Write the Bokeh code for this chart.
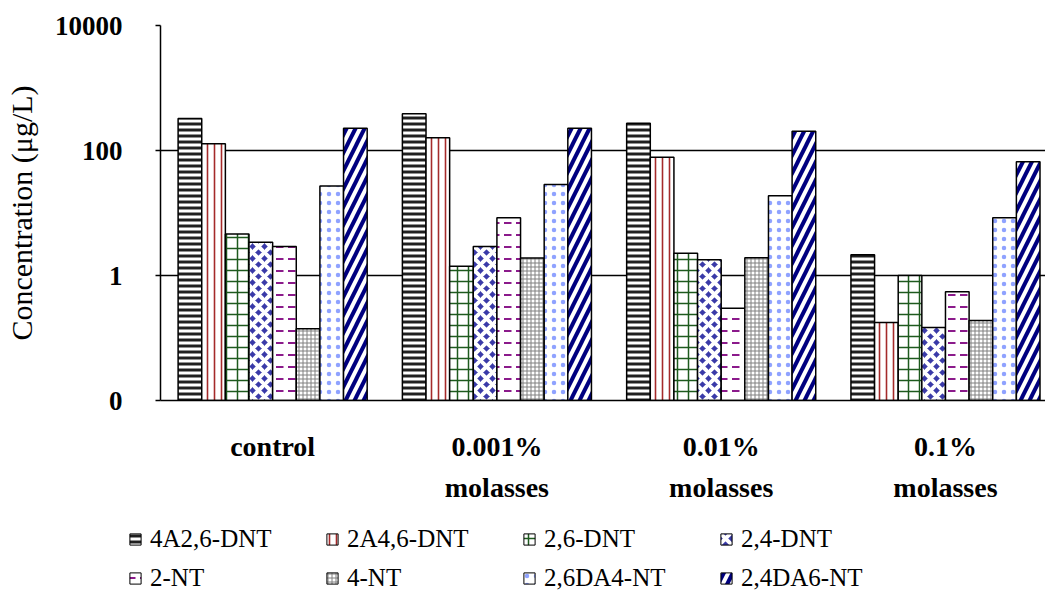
from bokeh.plotting import figure
from bokeh.layouts import column
from bokeh.models import Range1d, FixedTicker, Legend, LegendItem, ColumnDataSource
from bokeh.embed import file_html
from bokeh.resources import INLINE

# treatments (x categories) and nitroaromatic compounds (series)
groups = ["control", "0.001%\nmolasses", "0.01%\nmolasses", "0.1%\nmolasses"]
compounds = ["4A2,6-DNT", "2A4,6-DNT", "2,6-DNT", "2,4-DNT",
             "2-NT", "4-NT", "2,6DA4-NT", "2,4DA6-NT"]

# concentrations in µg/L, one value per treatment
conc_4a26dnt = [325, 386, 274, 2.14]
conc_2a46dnt = [128, 160, 78, 0.177]
conc_26dnt = [4.6, 1.41, 2.27, 1.0]
conc_24dnt = [3.4, 2.9, 1.78, 0.147]
conc_2nt = [2.9, 8.4, 0.30, 0.55]
conc_4nt = [0.14, 1.9, 1.92, 0.19]
conc_26da4nt = [27, 28.6, 18.8, 8.4]
conc_24da6nt = [228, 228, 204, 66]

series = [conc_4a26dnt, conc_2a46dnt, conc_26dnt, conc_24dnt,
          conc_2nt, conc_4nt, conc_26da4nt, conc_24da6nt]

# log axis ticks; the lowest tick is printed as "0"
y_ticks = [0.01, 1.0, 100.0, 10000.0]
y_tick_labels = ["0", "1", "100", "10000"]

# fill / hatch style for each compound
styles = [
    dict(fill_color="white", hatch_pattern="horizontal_line", hatch_color="#202020", hatch_scale=6, hatch_weight=3),
    dict(fill_color="white", hatch_pattern="vertical_line", hatch_color="#a52a2a", hatch_scale=7, hatch_weight=1.6),
    dict(fill_color="white", hatch_pattern="cross", hatch_color="#1e5a1e", hatch_scale=11, hatch_weight=1.5),
    dict(fill_color="#3a3aa8", hatch_pattern="diagonal_cross", hatch_color="white", hatch_scale=12, hatch_weight=4),
    dict(fill_color="white", hatch_pattern="horizontal_dash", hatch_color="#8b1a8b", hatch_scale=12, hatch_weight=2),
    dict(fill_color="white", hatch_pattern="cross", hatch_color="#808080", hatch_scale=4, hatch_weight=1),
    dict(fill_color="white", hatch_pattern="dot", hatch_color="#3355ff", hatch_scale=9, hatch_weight=0.1, hatch_alpha=0.55),
    dict(fill_color="white", hatch_pattern="right_diagonal_line", hatch_color="#000080", hatch_scale=18, hatch_weight=4),
]

SERIF = "Liberation Serif"
y_floor = y_ticks[0]
group_width = 0.843
bar_w = group_width / len(compounds)

p = figure(width=1045, height=505, y_axis_type="log",
           x_range=Range1d(0, 3.946), y_range=Range1d(y_ticks[0], y_ticks[-1]),
           output_backend="svg", toolbar_location=None,
           min_border_left=160, min_border_right=0,
           min_border_top=25, min_border_bottom=105)
p.frame_align = False
p.outline_line_color = None
p.background_fill_color = "white"
p.border_fill_color = "white"

# legend strip underneath the chart; its glyphs reuse the bar sources but
# sit far outside this strip's visible ranges, so only the legend shows
key = figure(width=1045, height=86, x_range=Range1d(1000, 1001), y_range=Range1d(5000, 5001),
             output_backend="svg", toolbar_location=None,
             min_border_left=0, min_border_right=0, min_border_top=0, min_border_bottom=0)
key.frame_align = False
key.axis.visible = False
key.grid.visible = False
key.outline_line_color = None
key.border_fill_color = "white"
key.background_fill_color = "white"

legend_items = []
for k, (name, vals, st) in enumerate(zip(compounds, series, styles)):
    xs = [i + 0.5 + (k - (len(compounds) - 1) / 2) * bar_w for i in range(len(groups))]
    src = ColumnDataSource(dict(x=xs, top=vals))
    p.vbar(x="x", top="top", bottom=y_floor, width=bar_w, source=src,
           line_color="black", line_width=1.5, **st)
    swatch = key.vbar(x="x", top="top", bottom=0, width=bar_w, source=src,
                      line_color="black", line_width=1, **st)
    legend_items.append(LegendItem(label=name, renderers=[swatch]))

# grid
p.xgrid.visible = False
p.ygrid.ticker = FixedTicker(ticks=y_ticks)
p.ygrid.grid_line_color = "black"
p.ygrid.grid_line_width = 1.5

# y axis
ya = p.yaxis[0]
ya.ticker = FixedTicker(ticks=y_ticks)
ya.major_label_overrides = dict(zip(y_ticks, y_tick_labels))
ya.minor_tick_line_color = None
ya.major_tick_in = 0
ya.major_tick_out = 5
ya.major_tick_line_width = 1.5
ya.axis_line_width = 1.5
ya.major_label_standoff = 33
ya.major_label_text_font = SERIF
ya.major_label_text_font_style = "bold"
ya.major_label_text_font_size = "27px"
ya.major_label_text_color = "black"
ya.axis_label = "Concentration (μg/L)"
ya.axis_label_text_font = SERIF
ya.axis_label_text_font_style = "normal"
ya.axis_label_text_font_size = "30px"
ya.axis_label_text_color = "black"
ya.axis_label_standoff = 14

# x axis
xa = p.xaxis[0]
x_centers = [i + 0.5 for i in range(len(groups))]
xa.ticker = FixedTicker(ticks=x_centers)
xa.major_label_overrides = dict(zip(x_centers, groups))
xa.major_tick_line_color = None
xa.minor_tick_line_color = None
xa.axis_line_width = 1.5
xa.major_label_standoff = 24
xa.major_label_text_font = SERIF
xa.major_label_text_font_style = "bold"
xa.major_label_text_font_size = "28px"
xa.major_label_text_line_height = 1.33
xa.major_label_text_color = "black"

legend = Legend(items=legend_items, location=(128, -1), orientation="horizontal",
                ncols=4, padding=0, margin=0, spacing=11,
                glyph_width=14, glyph_height=14, label_standoff=8, label_width=164,
                label_text_font=SERIF, label_text_font_size="25px",
                label_text_color="black",
                border_line_color=None, background_fill_alpha=0)
key.add_layout(legend)

open("out.html", "w").write(file_html(column(p, key, spacing=0), INLINE))
